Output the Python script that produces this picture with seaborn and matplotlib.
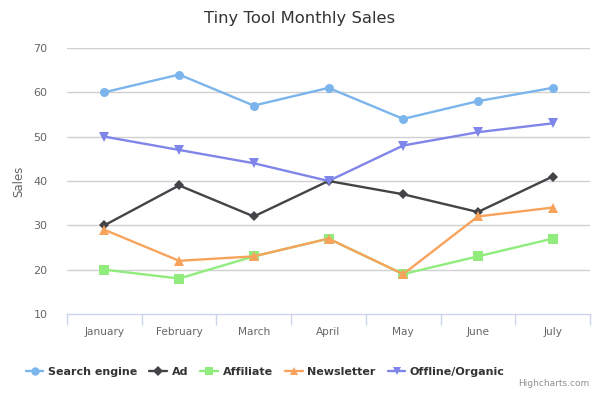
import numpy as np
import pandas as pd
import matplotlib
matplotlib.use("Agg")
import matplotlib.pyplot as plt
import seaborn as sns

months = ["January", "February", "March", "April", "May", "June", "July"]
search_engine = [60, 64, 57, 61, 54, 58, 61]
ad = [30, 39, 32, 40, 37, 33, 41]
affiliate = [20, 18, 23, 27, 19, 23, 27]
newsletter = [29, 22, 23, 27, 19, 32, 34]
offline_organic = [50, 47, 44, 40, 48, 51, 53]

series_names = ["Search engine", "Ad", "Affiliate", "Newsletter", "Offline/Organic"]
series_values = [search_engine, ad, affiliate, newsletter, offline_organic]
colors = ["#7cb5ec", "#434348", "#90ed7d", "#f7a35c", "#8085e9"]
markers = ["o", "D", "s", "^", "v"]
yticks = [10, 20, 30, 40, 50, 60, 70]

rows = []
for name, vals in zip(series_names, series_values):
    for i, v in enumerate(vals):
        rows.append({"month_idx": i, "Sales": v, "series": name})
df = pd.DataFrame(rows)

sns.set_theme(style="white")
plt.rcParams['font.family'] = ['DejaVu Sans']

fig = plt.figure(figsize=(6.0, 3.93), dpi=100)
ax = fig.add_axes([0.1117, 0.201, 0.8716, 0.677])

sns.lineplot(data=df, x="month_idx", y="Sales", hue="series", style="series",
             hue_order=series_names, style_order=series_names,
             palette=colors, markers=markers, dashes=False,
             markersize=6.5, markeredgewidth=0, linewidth=1.7,
             legend=False, ax=ax)
# diamonds look smaller in the reference
for line in ax.lines:
    if line.get_marker() == "D":
        line.set_markersize(4.8)

ax.set_xlim(-0.5, len(months) - 0.5)
ax.set_ylim(10, 70)
ax.set_yticks(yticks)
ax.set_yticklabels([str(t) for t in yticks], color="#666666", fontsize=8)
ax.set_xticks(range(len(months)))
ax.set_xticklabels(months, color="#666666", fontsize=7.6)
ax.set_xticks(np.arange(-0.5, len(months)), minor=True)
ax.tick_params(axis="x", which="major", length=0, pad=9)
ax.tick_params(axis="x", which="minor", bottom=True, length=8, color="#ccd6eb", width=1, direction="out")
ax.tick_params(axis="y", length=0, pad=14)

for t in yticks[1:]:
    ax.axhline(t, color="#d0d0d0", linewidth=1, zorder=0)

for side in ["top", "right", "left"]:
    ax.spines[side].set_visible(False)
ax.spines["bottom"].set_color("#ccd6eb")
ax.spines["bottom"].set_linewidth(1)

ax.set_xlabel("")
ax.set_ylabel("Sales", color="#666666", fontsize=8.5, labelpad=6)

fig.suptitle("Tiny Tool Monthly Sales", x=0.5, y=0.972, fontsize=11.8, color="#333333")

handles = [plt.Line2D([], [], color=c, marker=m, markersize=(4.8 if m == "D" else 6),
                      linewidth=1.7, markeredgewidth=0)
           for c, m in zip(colors, markers)]
fig.legend(handles, series_names, loc="center", bbox_to_anchor=(0.442, 0.053), ncol=5,
           frameon=False, handlelength=1.6, handletextpad=0.4, columnspacing=1.1,
           prop={"weight": "bold", "size": 8.0}, labelcolor="#333333")

fig.text(0.983, 0.012, "Highcharts.com", ha="right", va="bottom", fontsize=6.5, color="#909090")

fig.savefig("out.png", dpi=100)
